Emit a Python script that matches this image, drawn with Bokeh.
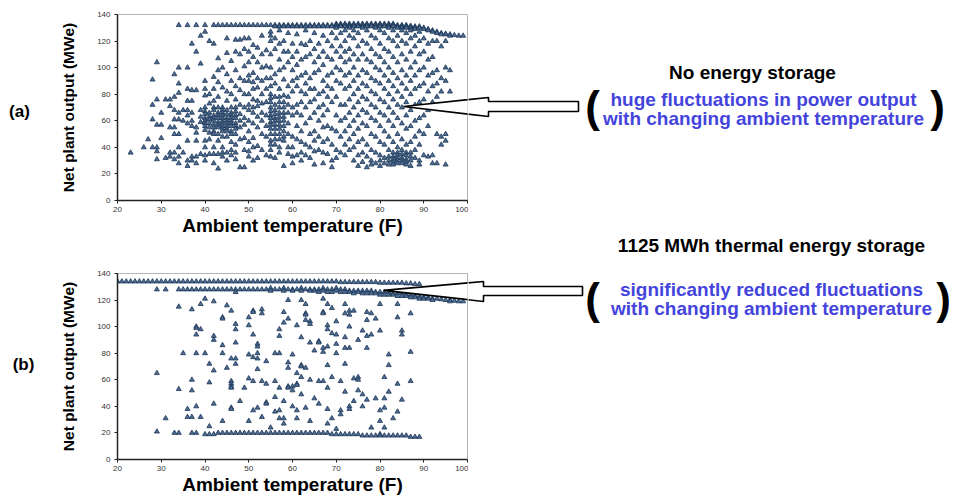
from bokeh.plotting import figure
from bokeh.models import Label, PolyAnnotation, Range1d, FixedTicker
from bokeh.layouts import column, row
from bokeh.embed import file_html
from bokeh.resources import INLINE

# ---------------- data ----------------
x_ticks = [20, 30, 40, 50, 60, 70, 80, 90, 100]
y_ticks = [0, 20, 40, 60, 80, 100, 120, 140]

# (a) No energy storage: temperature (F) columns and net output (MWe) read per column
a_temp = [23, 26, 27, 28, 29, 30, 31, 32, 33, 34, 35, 36, 37, 38, 39, 40, 41, 42, 43, 44,
          45, 46, 47, 48, 49, 50, 51, 52, 53, 54, 55, 56, 57, 58, 59, 60, 61, 62, 63, 64,
          65, 66, 67, 68, 69, 70, 71, 72, 73, 74, 75, 76, 77, 78, 79, 80, 81, 82, 83, 84,
          85, 86, 87, 88, 89, 90, 91, 92, 93, 94, 95, 96, 97, 98, 99]
a_mw = [
    [36], [40], [46], [91, 72, 61, 40], [104, 76, 57, 40, 37, 31], [66, 57, 47], [76, 32],
    [76, 71, 55, 36, 33], [95, 78, 68, 61, 55, 50, 36, 31],
    [132, 100, 88, 81, 66, 61, 50, 40, 33, 28], [68, 60, 36],
    [132, 100, 84, 75, 68, 64, 58, 45, 30, 26], [118, 83, 75, 66, 60, 56, 33, 30],
    [132, 112, 83, 55, 51, 45, 33, 28], [124, 103, 68, 63, 59, 35],
    [132, 127, 90, 84, 79, 70, 67, 65, 62, 60, 58, 56, 53, 45, 40, 34, 30],
    [120, 80, 73, 66, 63, 61, 58, 55, 51, 46, 35],
    [132, 118, 93, 84, 75, 70, 68, 64, 62, 60, 57, 55, 52, 50, 40, 35, 28],
    [132, 107, 98, 89, 78, 70, 66, 64, 62, 59, 57, 55, 50, 45, 35, 24],
    [132, 100, 85, 70, 68, 66, 64, 62, 60, 58, 56, 54, 52, 48, 40, 36, 33],
    [132, 122, 111, 95, 82, 75, 68, 65, 62, 60, 58, 56, 54, 52, 48, 36, 30],
    [132, 105, 90, 80, 70, 66, 64, 62, 60, 58, 56, 52, 50, 44, 38, 34],
    [132, 121, 112, 98, 86, 76, 70, 67, 64, 62, 58, 56, 54, 50, 42, 36, 31],
    [132, 121, 110, 92, 83, 72, 65, 60, 55, 46, 25],
    [132, 122, 114, 101, 90, 80, 70, 62, 57, 47, 38, 25],
    [132, 122, 112, 104, 94, 90, 80, 72, 68, 60, 52, 44, 37, 33],
    [132, 117, 108, 96, 89, 84, 76, 70, 66, 58, 47, 40, 30],
    [132, 115, 104, 92, 85, 75, 71, 63, 55, 41, 32],
    [132, 124, 110, 100, 90, 80, 73, 66, 60, 50, 38],
    [132, 113, 101, 92, 84, 74, 64, 56, 48, 34],
    [132, 127, 124, 120, 110, 100, 92, 86, 80, 77, 74, 70, 67, 64, 62, 59, 57, 54, 50,
     45, 42, 38, 33],
    [132, 131, 122, 114, 95, 88, 78, 72, 68, 65, 62, 60, 57, 54, 50, 46, 42, 32],
    [132, 131, 128, 118, 106, 98, 84, 78, 74, 70, 66, 63, 60, 57, 54, 50, 46, 40, 36],
    [132, 131, 120, 112, 100, 91, 79, 74, 70, 66, 63, 60, 56, 52, 48, 45, 26],
    [132, 131, 126, 112, 104, 86, 78, 72, 66, 58, 50, 40, 35],
    [132, 131, 118, 108, 98, 90, 82, 70, 64, 48, 40, 33, 28],
    [132, 131, 125, 112, 102, 92, 86, 72, 66, 56, 46, 34],
    [132, 131, 118, 106, 94, 82, 74, 64, 52, 44, 36, 30],
    [132, 131, 128, 117, 108, 96, 88, 80, 70, 58, 42, 34],
    [132, 131, 120, 110, 92, 84, 74, 62, 50, 40, 32],
    [132, 131, 126, 114, 104, 96, 84, 76, 66, 52, 45, 37, 27],
    [132, 131, 118, 108, 98, 80, 70, 60, 48, 38],
    [132, 131, 124, 112, 102, 90, 82, 72, 64, 55, 44, 36, 28],
    [132, 131, 120, 108, 94, 86, 78, 68, 56, 46, 35],
    [132, 131, 126, 116, 106, 96, 84, 74, 54, 42, 30, 25],
    [133, 132, 131, 130, 122, 112, 100, 90, 78, 64, 52, 38, 32],
    [133, 132, 131, 126, 116, 108, 98, 88, 72, 60, 48, 36],
    [133, 132, 131, 128, 120, 112, 104, 94, 84, 72, 62, 52, 42, 34],
    [133, 132, 131, 130, 124, 114, 106, 96, 86, 76, 66, 56, 46, 38],
    [133, 132, 131, 128, 122, 110, 100, 90, 80, 70, 60, 50, 40, 30],
    [133, 132, 131, 126, 116, 106, 94, 84, 74, 64, 54, 44, 34, 26],
    [133, 132, 131, 130, 120, 110, 98, 88, 78, 68, 58, 46, 36, 29],
    [133, 132, 131, 128, 118, 106, 96, 86, 76, 66, 56, 42, 33, 25],
    [133, 132, 131, 124, 114, 104, 92, 82, 72, 62, 50, 38, 30, 27],
    [133, 132, 131, 130, 122, 110, 100, 90, 80, 70, 60, 48, 36, 28],
    [133, 132, 131, 128, 118, 108, 98, 88, 76, 66, 56, 44, 34, 30, 26],
    [133, 132, 131, 126, 114, 104, 94, 84, 74, 64, 52, 42, 32, 28],
    [133, 132, 131, 130, 122, 112, 100, 90, 80, 70, 60, 48, 38, 33, 30, 27],
    [133, 132, 131, 128, 120, 108, 96, 86, 76, 66, 56, 44, 36, 33, 31, 29, 27],
    [132, 131, 130, 124, 116, 104, 92, 82, 72, 62, 50, 40, 36, 34, 32, 30, 28],
    [132, 131, 130, 128, 120, 110, 98, 88, 78, 70, 58, 46, 38, 35, 32, 30, 28],
    [132, 131, 130, 126, 118, 106, 94, 84, 74, 64, 54, 42, 36, 34, 31, 29, 27],
    [131.5, 130.5, 129.5, 128, 122, 112, 100, 90, 80, 68, 56, 44, 36, 33, 30, 26],
    [131, 130, 129, 124, 116, 104, 94, 84, 72, 60, 48, 38, 32],
    [131, 130, 127, 120, 110, 98, 86, 74, 62, 52, 42, 30, 27],
    [130, 129, 122, 112, 100, 88, 76, 64, 50, 34],
    [129, 128, 118, 106, 94, 82, 68, 56, 33],
    [128, 127, 120, 108, 96, 86, 74, 34, 28],
    [127, 126, 120, 98, 88, 78, 50, 28],
    [126, 125, 116, 92, 82, 48, 42],
    [125.5, 125, 120, 100, 90, 72, 50, 45, 27],
    [125, 124, 98, 82],
    [124.5], [124], [124],
]

# (b) 1125 MWh thermal energy storage
b_temp = [20, 21, 22, 23, 24, 25, 26, 27, 28, 29, 30, 31, 32, 33, 34, 35, 36, 37, 38, 39,
          40, 41, 42, 43, 44, 45, 46, 47, 48, 49, 50, 51, 52, 53, 54, 55, 56, 57, 58, 59,
          60, 61, 62, 63, 64, 65, 66, 67, 68, 69, 70, 71, 72, 73, 74, 75, 76, 77, 78, 79,
          80, 81, 82, 83, 84, 85, 86, 87, 88, 89, 90, 91, 92, 93, 94, 95, 96, 97, 98, 99]
b_mw = [
    [134], [134], [134], [134], [134], [134], [134], [134], [134],
    [134, 128, 65, 21], [134], [134, 128, 31], [134], [134, 20],
    [134, 128, 115, 53, 20], [134, 128, 80], [134, 128, 38, 32],
    [134, 128, 113, 60, 52, 32, 20], [134, 128, 100, 99, 94, 80, 40, 20],
    [134, 128, 117, 98, 32], [134, 128, 121, 80, 19], [134, 128, 72, 58, 25, 19],
    [134, 128, 119, 93, 90, 67, 42, 19], [134, 128, 20],
    [134, 128, 107, 106, 86, 80, 29, 20], [134, 128, 116, 69, 20],
    [134, 128, 112, 76, 59, 57, 55, 54, 39, 38, 20],
    [134, 128, 126, 102, 98, 88, 76, 72, 20], [134, 128, 44, 20], [134, 128, 54, 20],
    [134, 128, 107, 101, 79, 61, 29, 20], [134, 128, 112, 111, 94, 77, 59, 37, 20],
    [134, 128, 87, 85, 80, 76, 68, 39, 20], [134, 128, 113, 110, 59, 32, 20],
    [134, 128, 74, 57, 43, 42, 20], [134, 129, 127, 24, 20],
    [134, 128, 80, 59, 47, 36, 20], [134, 128, 98, 93, 80, 54, 37, 31, 20],
    [134, 129, 127, 111, 103, 44, 31, 27, 20], [134, 128, 120, 106, 73, 69, 55, 54, 20],
    [134, 128, 127, 79, 55, 52, 40, 20], [134, 128, 101, 65, 57, 56, 37, 31, 20],
    [134, 129, 127, 120, 92, 71, 70, 62, 49, 20],
    [134, 128, 117, 110, 109, 105, 69, 39, 20],
    [134, 128, 127, 104, 102, 88, 60, 29, 20], [134, 128, 127, 82, 46, 20],
    [134, 128, 126, 89, 88, 59, 42, 20],
    [134, 129, 127, 121, 111, 110, 84, 81, 59, 20],
    [134, 128, 126, 117, 101, 98, 85, 71, 54, 38, 27, 20],
    [134, 128, 126, 114, 95, 62, 31, 19],
    [134, 129, 127, 104, 94, 87, 80, 23, 19],
    [133.5, 128, 126, 59, 37, 34, 19],
    [133.5, 128, 126, 117, 110, 92, 84, 72, 51, 19],
    [133.5, 127, 126, 112, 109, 100, 84, 40, 38, 19],
    [133.5, 127, 125, 112, 61, 44, 19],
    [133.5, 127, 126, 90, 62, 60, 52, 19],
    [133.5, 127, 125, 97, 49, 40, 18],
    [133.5, 127, 125, 111, 105, 93, 84, 45, 18],
    [133.5, 127, 125, 110, 94, 24, 18],
    [133.5, 126, 125, 106, 46, 18],
    [133, 126, 124, 117, 97, 37, 29, 19, 18],
    [133, 126, 124, 62, 46, 39, 24, 18],
    [133, 126, 124, 79, 71, 51, 18],
    [133, 125, 124, 31, 18],
    [133, 125, 123, 117, 107, 57, 36, 18],
    [133, 125, 123, 97, 94, 45, 18],
    [132.5, 124, 123, 18],
    [132.5, 124, 122, 110, 81, 59, 17],
    [132, 123, 122, 17],
    [132, 123, 121, 17],
    [122, 121], [122, 121], [121, 120], [121], [120.5], [120], [120, 119], [119.5], [119], [119],
]


def flatten(temps, cols):
    xs, ys = [], []
    for t, col in zip(temps, cols):
        for v in col:
            xs.append(t)
            ys.append(v)
    return xs, ys


FONT = "Liberation Sans"
BLUE = "#4444dd"
PAGE_W, PAGE_H = 953, 497
LEFT_W = 50          # strip holding "(a)" / "(b)"
SPLIT = 468          # page x where the annotation panel begins
A_H, B_H = 246, 251

# page-pixel frames of the two chart panels (left, right, top, bottom)
A_FR = (117, 467, 14, 200)
B_FR = (117, 467, 273, 460)


def make_conv(fr):
    l, r, t, b = fr
    def conv(px, py):
        return 20 + (px - l) * 80.0 / (r - l), (b - py) * 140.0 / (b - t)
    return conv


def make_chart(fr, h, page_top):
    l, r, t, b = fr
    p = figure(width=SPLIT - LEFT_W, height=h, x_range=Range1d(20, 100), y_range=Range1d(0, 140),
               output_backend="svg", toolbar_location=None,
               min_border_left=l - LEFT_W, min_border_right=SPLIT - r,
               min_border_top=t - page_top, min_border_bottom=page_top + h - b,
               background_fill_color="white", border_fill_color="white")
    p.grid.visible = False
    p.outline_line_color = "#b4b4b4"
    p.outline_line_width = 1
    p.xaxis.ticker = FixedTicker(ticks=x_ticks)
    p.yaxis.ticker = FixedTicker(ticks=y_ticks)
    for ax in (p.xaxis[0], p.yaxis[0]):
        ax.axis_line_color = "#222222"
        ax.axis_line_width = 1.5
        ax.major_tick_line_color = "#222222"
        ax.major_tick_out = 3
        ax.major_tick_in = 0
        ax.minor_tick_out = 0
        ax.minor_tick_in = 0
        ax.major_label_text_font = FONT
        ax.major_label_text_font_size = "8px"
        ax.major_label_text_color = "#333333"
        ax.axis_label_text_font = FONT
        ax.axis_label_text_font_style = "bold"
        ax.axis_label_text_color = "black"
    p.xaxis.axis_label = "Ambient temperature (F)"
    p.yaxis.axis_label = "Net plant output (MWe)"
    p.xaxis.axis_label_text_font_size = "19px"
    p.yaxis.axis_label_text_font_size = "15.5px"
    p.xaxis.axis_label_standoff = 0
    p.yaxis.axis_label_standoff = 17
    p.xaxis.major_label_standoff = 3
    p.yaxis.major_label_standoff = 4
    return p


def make_blank(x0, x1):
    p = figure(width=x1 - x0, height=PAGE_H, x_range=Range1d(x0, x1), y_range=Range1d(PAGE_H, 0),
               output_backend="svg", toolbar_location=None, min_border=0,
               x_axis_location=None, y_axis_location=None,
               background_fill_color="white", border_fill_color="white")
    p.grid.visible = False
    p.outline_line_color = None
    return p


def add_text(p, x, y, text, size, color="black"):
    p.add_layout(Label(x=x, y=y, text=text, text_align="center", text_baseline="middle",
                       text_font=FONT, text_font_size=size, text_font_style="bold",
                       text_color=color))


def add_arrow(p, pts, conv=None):
    xs, ys = [], []
    for px, py in pts:
        x, y = conv(px, py) if conv else (px, py)
        xs.append(x)
        ys.append(y)
    p.add_layout(PolyAnnotation(xs=xs, ys=ys, xs_units="data", ys_units="data",
                                fill_color="white", fill_alpha=1.0,
                                line_color="black", line_alpha=1.0, line_width=1.6))


def add_points(p, xs, ys):
    p.scatter(xs, ys, marker="triangle", size=5, fill_color="#4f6d90",
              line_color="#1a3558", line_width=0.8)


ARROW_A = [(403, 106), (488, 97), (488, 101), (578, 101), (578, 111), (488, 111), (488, 116)]
ARROW_B = [(383, 290), (483, 281), (483, 286), (582, 286), (582, 295), (483, 295), (483, 301)]

# ---------------- chart panels ----------------
pa = make_chart(A_FR, A_H, 0)
xa, ya = flatten(a_temp, a_mw)
add_points(pa, xa, ya)
add_arrow(pa, ARROW_A, make_conv(A_FR))

pb = make_chart(B_FR, B_H, A_H)
xb, yb = flatten(b_temp, b_mw)
add_points(pb, xb, yb)
add_arrow(pb, ARROW_B, make_conv(B_FR))

# ---------------- left strip with panel letters ----------------
pl = make_blank(0, LEFT_W)
add_text(pl, 19, 111, "(a)", "17px")
add_text(pl, 23, 364, "(b)", "17px")

# ---------------- right annotation panel (page pixel coordinates) ----------------
pr = make_blank(SPLIT, PAGE_W)
add_arrow(pr, ARROW_A)
add_arrow(pr, ARROW_B)
add_text(pr, 752, 72, "No energy storage", "19px")
add_text(pr, 763, 99, "huge fluctuations in power output", "19px", BLUE)
add_text(pr, 763, 118, "with changing ambient temperature", "19px", BLUE)
add_text(pr, 592, 106, "(", "44px")
add_text(pr, 937, 106, ")", "44px")
add_text(pr, 771, 245, "1125 MWh thermal energy storage", "19px")
add_text(pr, 771, 289, "significantly reduced fluctuations", "19px", BLUE)
add_text(pr, 771, 308, "with changing ambient temperature", "19px", BLUE)
add_text(pr, 592, 298, "(", "44px")
add_text(pr, 943, 298, ")", "44px")

layout = row(pl, column(pa, pb, spacing=0), pr, spacing=0)
open("out.html", "w").write(file_html(layout, INLINE))
